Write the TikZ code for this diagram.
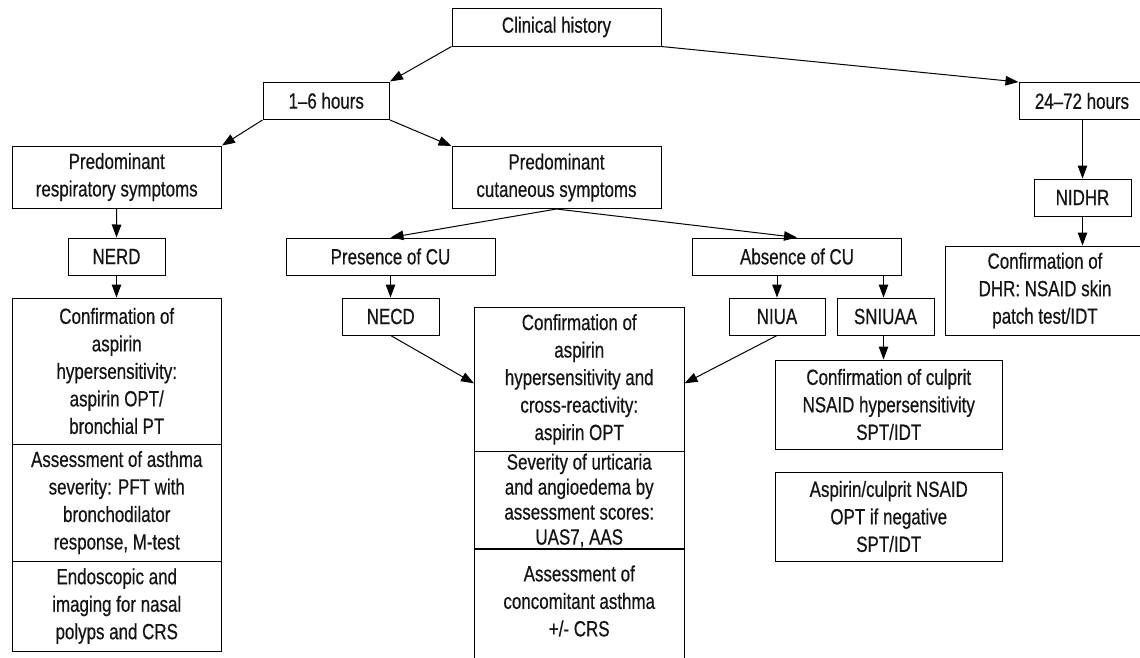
\documentclass[tikz,border=0pt]{standalone}
\usepackage{fontspec}
\setmainfont{Liberation Sans}[FakeStretch=0.77,FakeBold=0.5]
\usetikzlibrary{arrows.meta,calc}
\tikzset{
  box/.style={draw, line width=1pt, align=center, inner sep=0pt,
    font=\fontsize{22}{27.5}\selectfont, text=black!92},
  tight/.style={font=\fontsize{22}{25}\selectfont},
  arr/.style={-{Triangle[length=13pt,width=9.5pt]}, line width=1pt},
  edge/.style={line width=1pt}
}
\begin{document}
\begin{tikzpicture}[x=1pt,y=-1pt]
\useasboundingbox (0,0) rectangle (1140,657);
\clip (0,0) rectangle (1140,657);
\fill[white] (0,0) rectangle (1140,657);

\node[box, minimum width=209pt, minimum height=38pt] (ch) at (556.5,27) {Clinical history};
\node[box, minimum width=126.5pt, minimum height=37.5pt] (h16) at (326.25,100.75) {1–6 hours};
\node[box, minimum width=126pt, minimum height=37pt] (h2472) at (1082,101) {24–72 hours};
\node[box, minimum width=209.5pt, minimum height=62pt] (resp) at (116.75,177) {Predominant\\respiratory symptoms};
\node[box, minimum width=209pt, minimum height=62pt] (cut) at (556.5,177.5) {Predominant\\cutaneous symptoms};
\node[box, minimum width=97pt, minimum height=37pt] (nidhr) at (1082.5,197.5) {NIDHR};
\node[box, minimum width=97pt, minimum height=37pt] (nerd) at (116.5,256.5) {NERD};
\node[box, minimum width=209pt, minimum height=37pt] (pres) at (390.5,256.5) {Presence of CU};
\node[box, minimum width=209pt, minimum height=37pt] (abs) at (797,256.5) {Absence of CU};
\node[box, minimum width=200pt, minimum height=89pt] (dhr) at (1045,290.5) {Confirmation of\\DHR: NSAID skin\\patch test/IDT};
\node[box, minimum width=96.5pt, minimum height=37pt] (necd) at (390.75,316.5) {NECD};
\node[box, minimum width=96pt, minimum height=37pt] (niua) at (777,316.5) {NIUA};
\node[box, minimum width=97pt, minimum height=37pt] (sniuaa) at (885.5,316.5) {SNIUAA};

\node[box, minimum width=209.5pt, minimum height=146pt] (conf1) at (116.75,371) {Confirmation of\\aspirin\\hypersensitivity:\\aspirin OPT/\\bronchial PT};
\node[box, minimum width=209.5pt, minimum height=117pt] (asth) at (116.75,502.5) {Assessment of asthma\\severity: PFT with\\bronchodilator\\response, M-test};
\node[box, minimum width=209.5pt, minimum height=90pt] (endo) at (116.75,606) {Endoscopic and\\imaging for nasal\\polyps and CRS};

\node[box, minimum width=209.5pt, minimum height=144.7pt] (conf2) at (579.25,379.35) {Confirmation of\\aspirin\\hypersensitivity and\\cross-reactivity:\\aspirin OPT};
\node[box, tight, minimum width=209.5pt, minimum height=97.6pt] (sev) at (579.25,500.5) {Severity of urticaria\\and angioedema by\\assessment scores:\\UAS7, AAS};
\node[box, draw=none, minimum width=209.5pt, minimum height=103.4pt] (conc) at (579.25,601) {Assessment of\\concomitant asthma\\+/- CRS};
\draw[edge] ($(conc.south west)+(0,10)$) -- (conc.north west) -- (conc.north east) -- ($(conc.south east)+(0,10)$);

\node[box, minimum width=226.5pt, minimum height=89pt] (culprit) at (888.75,404.5) {Confirmation of culprit\\NSAID hypersensitivity\\SPT/IDT};
\node[box, minimum width=226.5pt, minimum height=89pt] (asp) at (888.75,516.5) {Aspirin/culprit NSAID\\OPT if negative\\SPT/IDT};

\draw[arr] (ch.south west) -- (h16.north east);
\draw[arr] (ch.south east) -- (h2472.north west);
\draw[arr] (h16.south west) -- (resp.north east);
\draw[arr] (h16.south east) -- (cut.north west);
\draw[arr] (resp.south) -- (nerd.north);
\draw[arr] (nerd.south) -- (conf1.north -| nerd.south);
\draw[arr] (cut.south) -- (pres.north);
\draw[arr] (cut.south) -- (abs.north);
\draw[arr] (pres.south) -- (necd.north -| pres.south);
\draw[arr] (niua.north |- abs.south) -- (niua.north);
\draw[arr] ($(sniuaa.north |- abs.south)+(-2,0)$) -- ($(sniuaa.north)+(-2,0)$);
\draw[arr] (necd.south) -- ($(conf2.west)+(0,4)$);
\draw[arr] (niua.south) -- ($(conf2.east)+(0,4)$);
\draw[arr] (h2472.south -| nidhr.north) -- (nidhr.north);
\draw[arr] (nidhr.south) -- (nidhr.south |- dhr.north);
\draw[arr] ($(sniuaa.south)+(-2,0)$) -- ($(sniuaa.south |- culprit.north)+(-2,0)$);
\end{tikzpicture}
\end{document}
